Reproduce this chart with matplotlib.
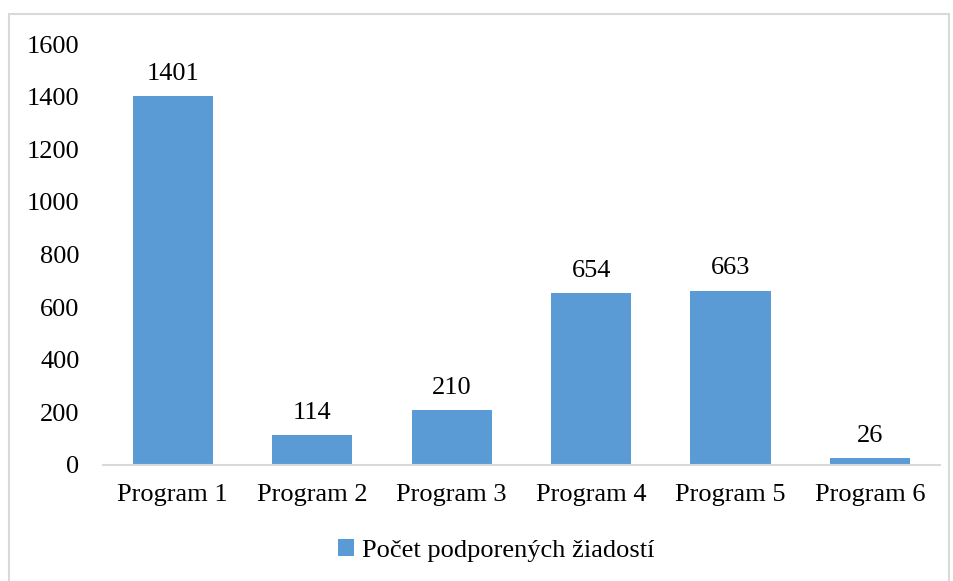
import matplotlib.pyplot as plt
from matplotlib.patches import Rectangle

programs = ["Program 1", "Program 2", "Program 3", "Program 4", "Program 5", "Program 6"]
counts = [1401, 114, 210, 654, 663, 26]
series_name = "Počet podporených žiadostí"

plt.rcParams['font.family'] = ['Liberation Serif', 'DejaVu Serif']

bar_color = "#5B9BD5"
fs = 19

fig = plt.figure(figsize=(9.54, 5.81), dpi=100)
ax = fig.add_axes([0.108, 0.1997, 0.877, 0.7243])

# chart frame around the whole figure
fig.patches.append(Rectangle((9 / 954, -0.1), 940 / 954, 1 - 14 / 581 + 0.1,
                             transform=fig.transFigure, fill=False,
                             edgecolor="#D9D9D9", linewidth=1.5))

x = range(len(programs))
bars = ax.bar(x, counts, width=0.575, color=bar_color, label=series_name)
for b, v in zip(bars, counts):
    ax.annotate(str(v), (b.get_x() + b.get_width() / 2, v),
                xytext=(0, 8), textcoords="offset points",
                ha="center", va="bottom", fontsize=fs)

ax.set_xlim(-0.5, len(programs) - 0.5)
ax.set_ylim(0, 1600)
ax.set_yticks(range(0, 1601, 200))
ax.set_xticks(list(x))
ax.set_xticklabels(programs)
ax.tick_params(axis="both", length=0, labelsize=fs)
ax.tick_params(axis="y", pad=17)
ax.tick_params(axis="x", pad=14)

for s in ["top", "right", "left"]:
    ax.spines[s].set_visible(False)
ax.spines["bottom"].set_color("#D9D9D9")
ax.spines["bottom"].set_linewidth(1.5)

fig.legend(handles=[bars], labels=[series_name], loc="center",
           bbox_to_anchor=(0.52, 0.052), frameon=False, fontsize=fs,
           handlelength=0.6, handleheight=0.6, handletextpad=0.3)

fig.savefig("out.png", dpi=100)
